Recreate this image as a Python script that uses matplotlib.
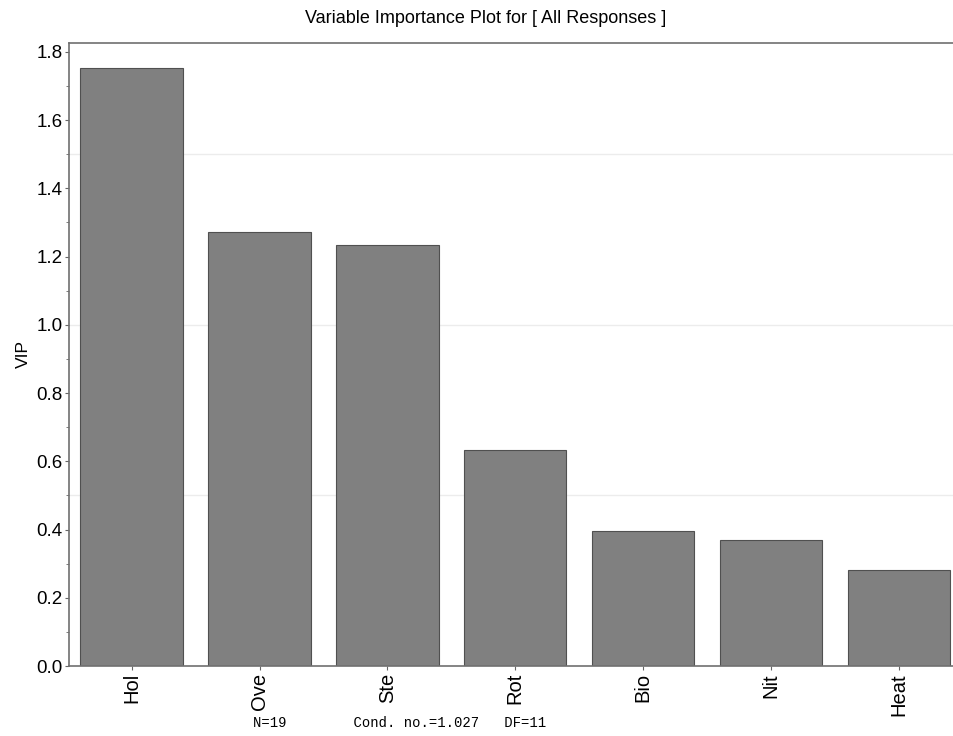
import matplotlib
matplotlib.use('Agg')
from matplotlib import pyplot as plt
from matplotlib.ticker import MultipleLocator

plt.rcParams['font.family'] = ['Liberation Sans', 'DejaVu Sans']

# VIP values
variables = ['Hol', 'Ove', 'Ste', 'Rot', 'Bio', 'Nit', 'Heat']
vip = [1.753, 1.272, 1.234, 0.633, 0.396, 0.369, 0.281]
footer = 'N=19        Cond. no.=1.027   DF=11'

fig = plt.figure(figsize=(9.54, 7.36), dpi=100)
fig.set_facecolor('white')
ax = fig.add_axes([0.0723, 0.0951, 0.9277, 0.8465])

ax.bar(range(len(variables)), vip, width=0.8, color='#808080',
       edgecolor='#505050', linewidth=0.8, zorder=2)

ax.set_xlim(-0.49, 6.43)
ax.set_ylim(0, 1.826)

# faint horizontal grid at 0.5 steps
for y in [0.5, 1.0, 1.5]:
    ax.axhline(y, color='#ececec', linewidth=1, zorder=1)

ax.yaxis.set_major_locator(MultipleLocator(0.2))
ax.yaxis.set_minor_locator(MultipleLocator(0.1))
ax.yaxis.set_major_formatter(matplotlib.ticker.FormatStrFormatter('%.1f'))
ax.tick_params(axis='y', which='major', labelsize=13.5, length=3, pad=1.5, color='#666666')
ax.tick_params(axis='y', which='minor', length=2.5, color='#666666')

ax.set_xticks(range(len(variables)))
ax.set_xticklabels(variables, rotation=90, fontsize=14.5)
ax.tick_params(axis='x', length=3, pad=2, color='#666666')

for side in ['left', 'top', 'bottom']:
    ax.spines[side].set_color('#707070')
    ax.spines[side].set_linewidth(1.2)
ax.spines['right'].set_visible(False)

ax.set_ylabel('VIP', fontsize=12.5, labelpad=4)

fig.text(0.509, 0.975, 'Variable Importance Plot for [ All Responses ]',
         ha='center', va='center', fontsize=13)
fig.text(0.265, 0.017, footer, family='Liberation Mono', fontsize=10,
         ha='left', va='center')

plt.savefig('out.png', dpi=100)
